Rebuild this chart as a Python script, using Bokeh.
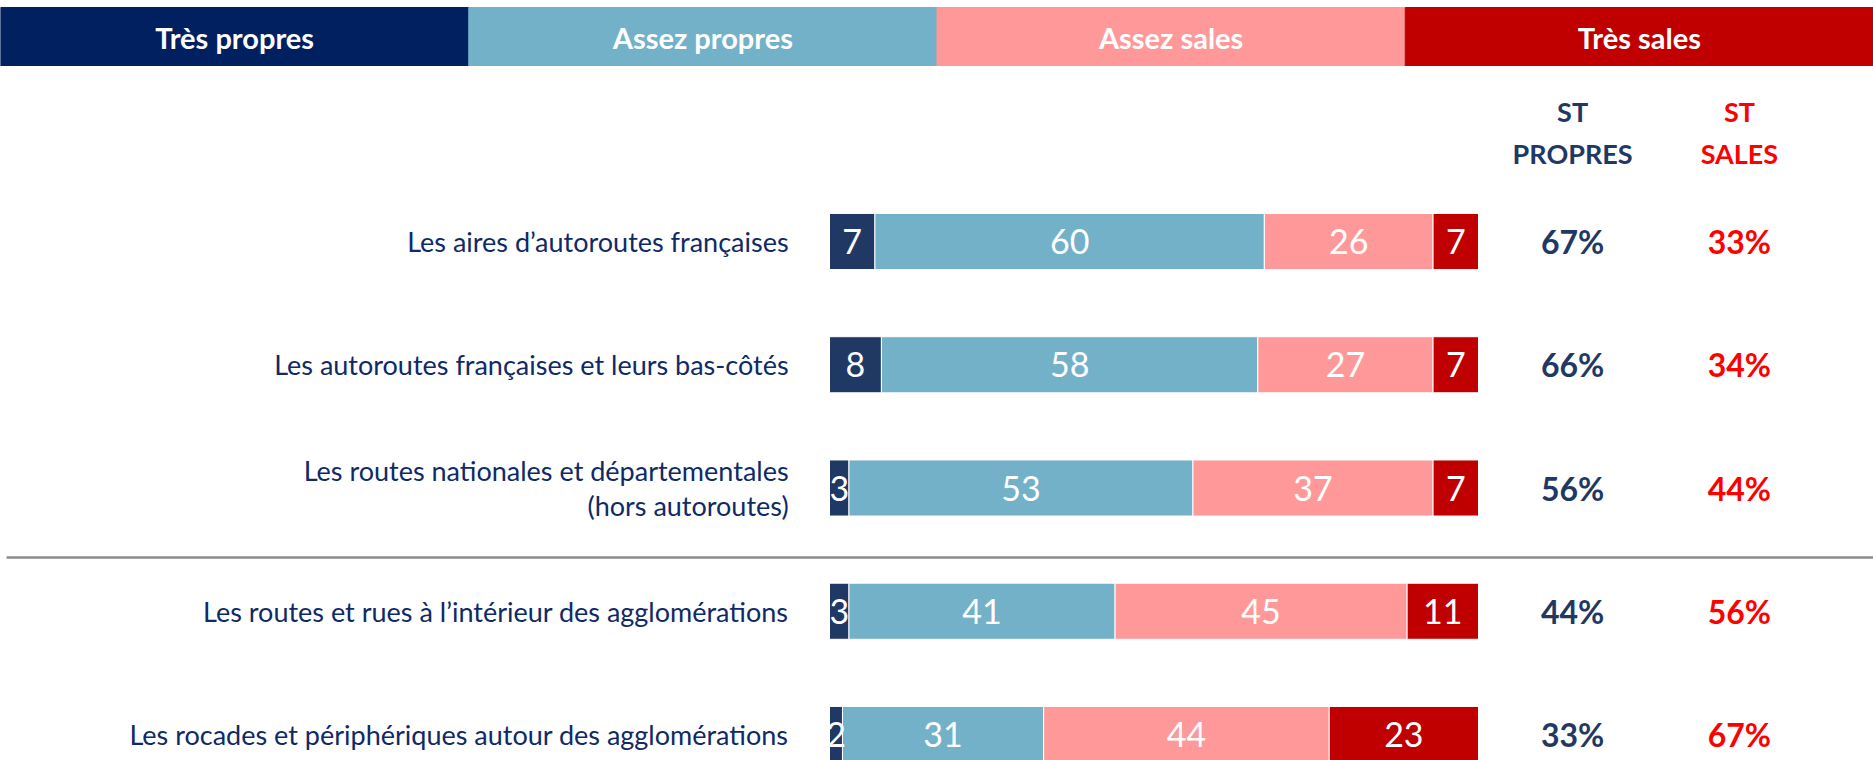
from bokeh.plotting import figure
from bokeh.models import Range1d, ColumnDataSource, FactorRange
from bokeh.layouts import column
from bokeh.core.properties import value
from bokeh.embed import file_html
from bokeh.resources import INLINE
import numpy as np

# ---------------- data ----------------
categories = [
    "Les aires d\u2019autoroutes fran\u00e7aises",
    "Les autoroutes fran\u00e7aises et leurs bas-c\u00f4t\u00e9s",
    "Les routes nationales et d\u00e9partementales\n(hors autoroutes)",
    "Les routes et rues \u00e0 l\u2019int\u00e9rieur des agglom\u00e9rations",
    "Les rocades et p\u00e9riph\u00e9riques autour des agglom\u00e9rations",
]
series_names = ["Tr\u00e8s propres", "Assez propres", "Assez sales", "Tr\u00e8s sales"]
tres_propres = [7, 8, 3, 3, 2]
assez_propres = [60, 58, 53, 41, 31]
assez_sales = [26, 27, 37, 45, 44]
tres_sales = [7, 7, 7, 11, 23]
st_propres = [67, 66, 56, 44, 33]
st_sales = [33, 34, 44, 56, 67]
st_headers = ["ST\nPROPRES", "ST\nSALES"]

# ---------------- style ----------------
FONT = "Lato"
header_colors = ["#002060", "#72B1C8", "#FF9999", "#C00000"]
bar_colors = ["#1F3864", "#72B1C8", "#FF9999", "#C00000"]
label_color = "#0F2A66"
st_colors = ["#1F3864", "#FF0000"]

W = 1873
HEADER_H = 66
BAND_H = 59
MAIN_H = 694

# ---------------- header band ----------------
hdr = figure(width=W, height=HEADER_H, x_range=FactorRange(*series_names),
             y_range=Range1d(0, HEADER_H / BAND_H), output_backend="svg",
             toolbar_location=None, min_border=0, outline_line_color=None)
hdr.axis.visible = False
hdr.grid.visible = False
hsrc = ColumnDataSource(dict(x=series_names, c=header_colors))
hdr.vbar(x="x", top=1, bottom=0, width=1.0, color="c", source=hsrc)
hdr.text(x="x", y=0.5, text="x", source=hsrc, text_color="white",
         text_font=value(FONT), text_font_style="bold", text_font_size="29px",
         text_align="center", text_baseline="middle")

# ---------------- main chart ----------------
PX_PER_UNIT = 6.49          # pixels per percentage point
BAR_START_PX = 829          # pixel where 0% lies
ROW_PX = 123.25             # row spacing in pixels
ROW0_PX = 175               # pixel centre of first row
x0 = -BAR_START_PX / PX_PER_UNIT
x1 = x0 + W / PX_PER_UNIT
y_top = -ROW0_PX / ROW_PX
y_bot = (MAIN_H - ROW0_PX) / ROW_PX

p = figure(width=W, height=MAIN_H, x_range=Range1d(x0, x1),
           y_range=Range1d(y_bot, y_top), output_backend="svg",
           toolbar_location=None, min_border=0, outline_line_color=None)
p.axis.visible = False
p.grid.visible = False

n = len(categories)
ys = list(range(n))
keys = ["tp", "ap", "as", "ts"]
src = ColumnDataSource(dict(y=ys, tp=tres_propres, ap=assez_propres,
                            **{"as": assez_sales}, ts=tres_sales))
p.hbar_stack(keys, y="y", height=0.455, color=bar_colors, source=src,
             line_color="white", line_width=1)

# value labels inside segments
vals = np.array([tres_propres, assez_propres, assez_sales, tres_sales], dtype=float)
cum = np.cumsum(vals, axis=0)
centers = cum - vals / 2
lx, ly, lt = [], [], []
for k in range(vals.shape[0]):
    for i in range(n):
        lx.append(centers[k, i])
        ly.append(i)
        lt.append(str(int(vals[k, i])))
p.text(x=lx, y=ly, text=lt, text_color="white", text_font=value(FONT),
       text_font_size="34px", text_align="center", text_baseline="middle")

# category labels
p.text(x=[-6.3] * n, y=ys, text=categories, text_color=label_color,
       text_font=value(FONT), text_font_size="27px", text_align="right",
       text_baseline="middle", text_line_height=1.07)

# ST columns
ST_X = [114.5, 140.2]
ST_HEADER_Y = -0.884
for j, (vals_st, col) in enumerate(zip([st_propres, st_sales], st_colors)):
    p.text(x=[ST_X[j]], y=[ST_HEADER_Y], text=[st_headers[j]], text_color=col,
           text_font=value(FONT), text_font_style="bold", text_font_size="27px",
           text_align="center", text_baseline="middle", text_line_height=1.25)
    p.text(x=[ST_X[j]] * n, y=ys, text=[f"{v}%" for v in vals_st], text_color=col,
           text_font=value(FONT), text_font_style="bold", text_font_size="32px",
           text_align="center", text_baseline="middle")

# separator line
SEP_Y = 2.564
p.segment(x0=[-126.8], y0=[SEP_Y], x1=[x1], y1=[SEP_Y], line_color="#8C8C8C",
          line_width=2.5)

layout = column(hdr, p, spacing=0)
open("out.html", "w").write(file_html(layout, INLINE))
